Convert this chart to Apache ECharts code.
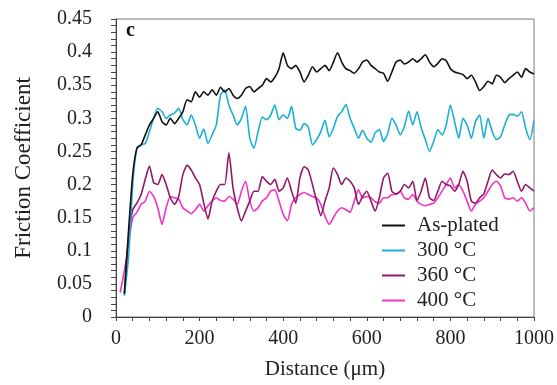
<!DOCTYPE html>
<html>
<head>
<meta charset="utf-8">
<script src="https://cdn.jsdelivr.net/npm/echarts@6/dist/echarts.min.js"></script>
<style>
  html, body { margin: 0; padding: 0; background: #fff; }
  #chart { width: 557px; height: 385px; }
</style>
</head>
<body>
<div id="chart"></div>
<script>
// Sliding distance (µm), sampled every 10 µm
const distance = [];
for (let d = 10; d <= 1000; d += 10) distance.push(d);

const seriesNames = ['As-plated', '300 °C', '360 °C', '400 °C'];
const seriesColors = ['#111111', '#1aafd4', '#901868', '#f032c6'];

const asPlated = [null,0.035,0.13,0.215,0.255,0.26,0.275,0.29,0.30,0.31,
  0.295,0.29,0.30,0.292,0.30,0.31,0.328,0.325,0.34,0.332,
  0.34,0.335,0.343,0.335,0.347,0.34,0.345,0.335,0.33,0.335,
  0.345,0.348,0.34,0.345,0.35,0.36,0.355,0.362,0.375,0.399,
  0.38,0.375,0.38,0.37,0.355,0.365,0.378,0.37,0.375,0.38,
  0.372,0.385,0.399,0.385,0.375,0.372,0.368,0.375,0.385,0.388,
  0.38,0.375,0.37,0.368,0.356,0.37,0.385,0.388,0.382,0.385,
  0.39,0.385,0.39,0.396,0.385,0.378,0.383,0.39,0.387,0.375,
  0.37,0.368,0.366,0.36,0.365,0.355,0.342,0.348,0.356,0.352,
  0.365,0.362,0.354,0.36,0.365,0.37,0.362,0.375,0.37,0.367];

const t300 = [null,0.032,0.09,0.2,0.255,0.26,0.262,0.28,0.30,0.315,
  0.31,0.30,0.305,0.308,0.315,0.298,0.29,0.305,0.29,0.27,
  0.284,0.262,0.275,0.29,0.335,0.343,0.32,0.305,0.29,0.30,
  0.318,0.27,0.255,0.28,0.302,0.298,0.305,0.32,0.298,0.305,
  0.30,0.318,0.285,0.282,0.292,0.287,0.26,0.268,0.28,0.297,
  0.272,0.285,0.303,0.31,0.321,0.30,0.285,0.27,0.282,0.27,
  0.264,0.278,0.283,0.265,0.277,0.30,0.29,0.275,0.288,0.311,
  0.29,0.31,0.286,0.268,0.25,0.265,0.283,0.275,0.29,0.32,
  0.295,0.27,0.30,0.29,0.27,0.295,0.305,0.27,0.30,0.28,
  0.268,0.272,0.29,0.305,0.306,0.303,0.31,0.285,0.268,0.296];

const t360 = [null,0.035,0.12,0.162,0.172,0.185,0.208,0.228,0.203,0.20,
  0.215,0.20,0.18,0.17,0.182,0.215,0.229,0.222,0.21,0.20,
  0.172,0.148,0.175,0.19,0.20,0.20,0.248,0.195,0.165,0.145,
  0.16,0.175,0.19,0.19,0.212,0.205,0.20,0.208,0.19,0.195,
  0.21,0.19,0.172,0.21,0.227,0.222,0.20,0.175,0.153,0.175,
  0.195,0.225,0.215,0.20,0.21,0.205,0.195,0.17,0.182,0.19,
  0.175,0.16,0.18,0.21,0.217,0.19,0.186,0.19,0.20,0.195,
  0.205,0.176,0.19,0.21,0.18,0.176,0.19,0.205,0.20,0.198,
  0.19,0.20,0.22,0.205,0.175,0.172,0.18,0.186,0.205,0.222,
  0.215,0.21,0.216,0.215,0.22,0.205,0.19,0.20,0.195,0.19];

const t400 = [0.037,0.07,0.11,0.15,0.158,0.17,0.175,0.19,0.182,0.165,
  0.14,0.165,0.182,0.18,0.178,0.165,0.16,0.156,0.162,0.17,
  0.16,0.168,0.175,0.18,0.176,0.175,0.182,0.178,0.17,0.19,
  0.205,0.175,0.16,0.165,0.175,0.18,0.19,0.192,0.175,0.155,
  0.145,0.17,0.18,0.185,0.188,0.185,0.182,0.18,0.17,0.152,
  0.14,0.15,0.16,0.165,0.162,0.158,0.175,0.192,0.18,0.182,
  0.18,0.174,0.172,0.18,0.18,0.185,0.185,0.19,0.18,0.178,
  0.185,0.175,0.17,0.168,0.17,0.172,0.18,0.19,0.20,0.21,
  0.195,0.20,0.19,0.175,0.16,0.17,0.175,0.18,0.19,0.20,
  0.205,0.198,0.18,0.178,0.18,0.175,0.18,0.172,0.16,0.165];

const yTicks = [0, 0.05, 0.1, 0.15, 0.2, 0.25, 0.3, 0.35, 0.4, 0.45];

const serif = '"Liberation Serif", "DejaVu Serif", serif';
const seriesData = [asPlated, t300, t360, t400];

const chart = echarts.init(document.getElementById('chart'), null, { renderer: 'canvas' });

chart.setOption({
  animation: false,
  backgroundColor: '#ffffff',
  textStyle: { fontFamily: serif },
  grid: {
    left: 116, right: 23, top: 19, bottom: 65,
    show: true, borderColor: '#7a7a7a', borderWidth: 1
  },
  xAxis: {
    type: 'value', min: 0, max: 1000, interval: 200,
    name: 'Distance (μm)', nameLocation: 'middle', nameGap: 42,
    nameTextStyle: { fontFamily: serif, fontSize: 21, color: '#222' },
    axisLine: { show: true, onZero: false, lineStyle: { color: '#444', width: 1 } },
    axisTick: { show: true, inside: false, length: 4, lineStyle: { color: '#444' } },
    minorTick: { show: true, splitNumber: 5, length: 4, lineStyle: { color: '#444' } },
    splitLine: { show: false },
    axisLabel: {
      fontFamily: serif, fontSize: 20, color: '#222', margin: 12,
      formatter: v => String(v)
    }
  },
  yAxis: {
    type: 'value', min: yTicks[0], max: yTicks[yTicks.length - 1], interval: 0.05,
    name: 'Friction Coefficient', nameLocation: 'middle', nameGap: 81,
    nameTextStyle: { fontFamily: serif, fontSize: 23, color: '#222' },
    axisLine: { show: true, onZero: false, lineStyle: { color: '#444', width: 1 } },
    axisTick: { show: true, inside: false, length: 5, lineStyle: { color: '#444' } },
    minorTick: { show: true, splitNumber: 5, length: 5, lineStyle: { color: '#444' } },
    splitLine: { show: false },
    axisLabel: {
      fontFamily: serif, fontSize: 20, color: '#222', margin: 24,
      formatter: v => String(+v.toFixed(2))
    }
  },
  legend: {
    orient: 'vertical', left: 382, top: 215, padding: 0,
    itemWidth: 23, itemHeight: 2, itemGap: 4,
    icon: 'rect',
    textStyle: { fontFamily: serif, fontSize: 21, color: '#222', padding: [0, 0, 0, 7] },
    data: seriesNames
  },
  graphic: [{
    type: 'text', left: 126, top: 21,
    style: { text: 'c', font: 'bold 20px ' + serif, fill: '#111' }
  }],
  series: seriesNames.map((name, i) => ({
    name: name,
    type: 'line',
    data: distance.map((d, k) => [d, seriesData[i][k]]),
    showSymbol: false,
    smooth: 0.2,
    connectNulls: false,
    lineStyle: { color: seriesColors[i], width: 1.6 },
    itemStyle: { color: seriesColors[i] },
    z: 10 - i
  }))
});
</script>
</body>
</html>
